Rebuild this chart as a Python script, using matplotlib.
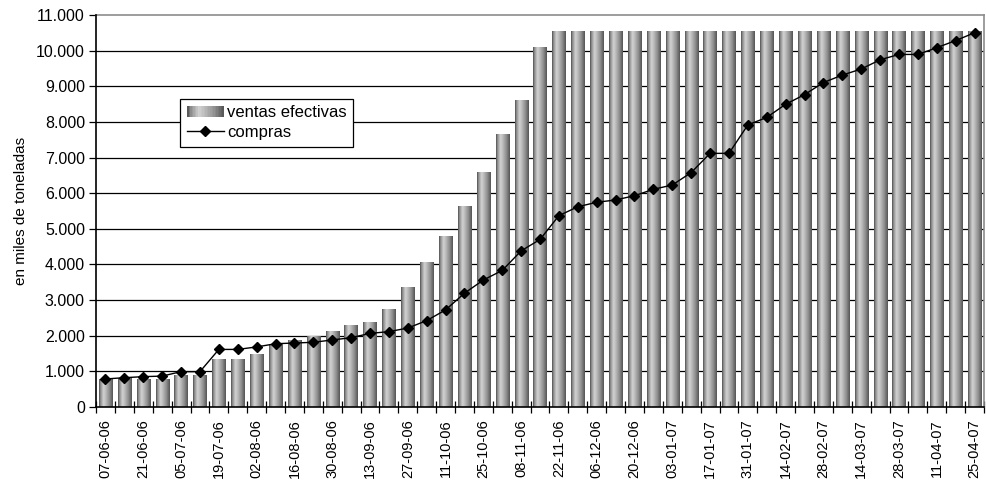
import matplotlib
matplotlib.use("Agg")
import matplotlib.pyplot as plt
import numpy as np
from matplotlib.colors import LinearSegmentedColormap
from matplotlib.legend_handler import HandlerBase
from matplotlib.patches import Rectangle
from matplotlib.lines import Line2D
from matplotlib.ticker import FuncFormatter, MultipleLocator

plt.rcParams['font.family'] = ['Liberation Sans', 'DejaVu Sans']

# Weekly dates (dd-mm-yy)
fechas = [
    "07-06-06", "14-06-06", "21-06-06", "28-06-06", "05-07-06", "12-07-06",
    "19-07-06", "26-07-06", "02-08-06", "09-08-06", "16-08-06", "23-08-06",
    "30-08-06", "06-09-06", "13-09-06", "20-09-06", "27-09-06", "04-10-06",
    "11-10-06", "18-10-06", "25-10-06", "01-11-06", "08-11-06", "15-11-06",
    "22-11-06", "29-11-06", "06-12-06", "13-12-06", "20-12-06", "27-12-06",
    "03-01-07", "10-01-07", "17-01-07", "24-01-07", "31-01-07", "07-02-07",
    "14-02-07", "21-02-07", "28-02-07", "07-03-07", "14-03-07", "21-03-07",
    "28-03-07", "04-04-07", "11-04-07", "18-04-07", "25-04-07",
]

# Cumulative effective sales (thousand tonnes)
ventas_efectivas = [
    780, 800, 780, 780, 890, 890, 1340, 1340, 1480, 1750, 1870, 1990,
    2130, 2300, 2380, 2740, 3370, 4060, 4800, 5640, 6600, 7660, 8620, 10110,
    10560, 10560, 10560, 10560, 10560, 10560, 10560, 10560, 10560, 10560,
    10560, 10560, 10560, 10560, 10560, 10560, 10560, 10560, 10560, 10560,
    10560, 10560, 10560,
]

# Cumulative purchases (thousand tonnes)
compras = [
    780, 815, 845, 860, 985, 985, 1610, 1610, 1680, 1770, 1790, 1810,
    1875, 1940, 2060, 2110, 2210, 2420, 2720, 3190, 3560, 3830, 4380, 4700,
    5370, 5620, 5745, 5810, 5930, 6110, 6230, 6580, 7120, 7120, 7920, 8130,
    8500, 8770, 9110, 9320, 9490, 9750, 9900, 9900, 10090, 10290, 10510,
]

# Cylinder-style shading across each bar
cyl = LinearSegmentedColormap.from_list(
    "cyl",
    [(0.0, "#4e4e4e"), (0.10, "#8c8c8c"), (0.32, "#d2d2d2"),
     (0.48, "#bcbcbc"), (0.75, "#8e8e8e"), (1.0, "#545454")],
)
grad = np.linspace(0, 1, 64).reshape(1, -1)

fig = plt.figure(figsize=(9.86, 4.84), dpi=100)
ax = fig.add_axes([0.0974, 0.1597, 0.9006, 0.8087])

x = np.arange(len(fechas))
bars = ax.bar(x, ventas_efectivas, width=0.7, facecolor="none",
              edgecolor="none", zorder=2)
for b in bars:
    x0, y0 = b.get_x(), b.get_y()
    w, h = b.get_width(), b.get_height()
    im = ax.imshow(grad, cmap=cyl, aspect="auto", interpolation="bilinear",
                   extent=[x0, x0 + w, y0, y0 + h], zorder=2)
    im.set_clip_path(b)

ax.plot(x, compras, color="black", lw=1.0, marker="D", markersize=5,
        markerfacecolor="black", markeredgecolor="black", zorder=4)

ax.set_xlim(-0.5, len(fechas) - 0.5)
ax.set_ylim(0, 11000)

# Horizontal gridlines
for yv in range(1000, 11000, 1000):
    ax.axhline(yv, color="black", lw=0.9, zorder=1)

ax.yaxis.set_major_locator(MultipleLocator(1000))
ax.yaxis.set_major_formatter(
    FuncFormatter(lambda v, p: f"{int(v):,}".replace(",", ".")))
ax.tick_params(axis="y", direction="out", length=5, width=0.9,
               labelsize=11.5, pad=3)

ax.set_xticks(x[::2])
ax.set_xticklabels(fechas[::2], rotation=90)
ax.set_xticks(np.arange(-0.5, len(fechas), 1.0), minor=True)
ax.tick_params(axis="x", which="major", length=0, labelsize=10.5, pad=9)
ax.tick_params(axis="x", which="minor", direction="inout", length=8,
               width=0.9)

for side in ("left", "bottom"):
    ax.spines[side].set_color("black")
    ax.spines[side].set_linewidth(1.2)
for side in ("top", "right"):
    ax.spines[side].set_color("#8c8c8c")
    ax.spines[side].set_linewidth(1.2)
ax.spines["left"].set_zorder(5)
ax.spines["bottom"].set_zorder(5)

ax.set_ylabel("en miles de toneladas", fontsize=11, labelpad=6)


class GradientHandler(HandlerBase):
    def create_artists(self, legend, orig_handle, xdescent, ydescent,
                       width, height, fontsize, trans):
        n = 24
        arts = []
        for i in range(n):
            r = Rectangle((-xdescent + width * i / n, -ydescent + height * 0.05),
                          width / n + 0.3, height * 0.9,
                          facecolor=cyl((i + 0.5) / n), edgecolor="none",
                          transform=trans)
            arts.append(r)
        return arts


bar_handle = Rectangle((0, 0), 1, 1)
line_handle = Line2D([], [], color="black", lw=1.0, marker="D",
                     markersize=5)
leg = ax.legend([bar_handle, line_handle], ["ventas efectivas", "compras"],
                handler_map={Rectangle: GradientHandler()},
                loc="upper left", bbox_to_anchor=(0.095, 0.787),
                fontsize=12, frameon=True, fancybox=False, framealpha=1,
                edgecolor="black", borderpad=0.4, handlelength=2.2,
                handletextpad=0.2, labelspacing=0.3, borderaxespad=0)
leg.get_frame().set_linewidth(0.9)
leg.set_zorder(6)

fig.savefig("out.png", dpi=100)
